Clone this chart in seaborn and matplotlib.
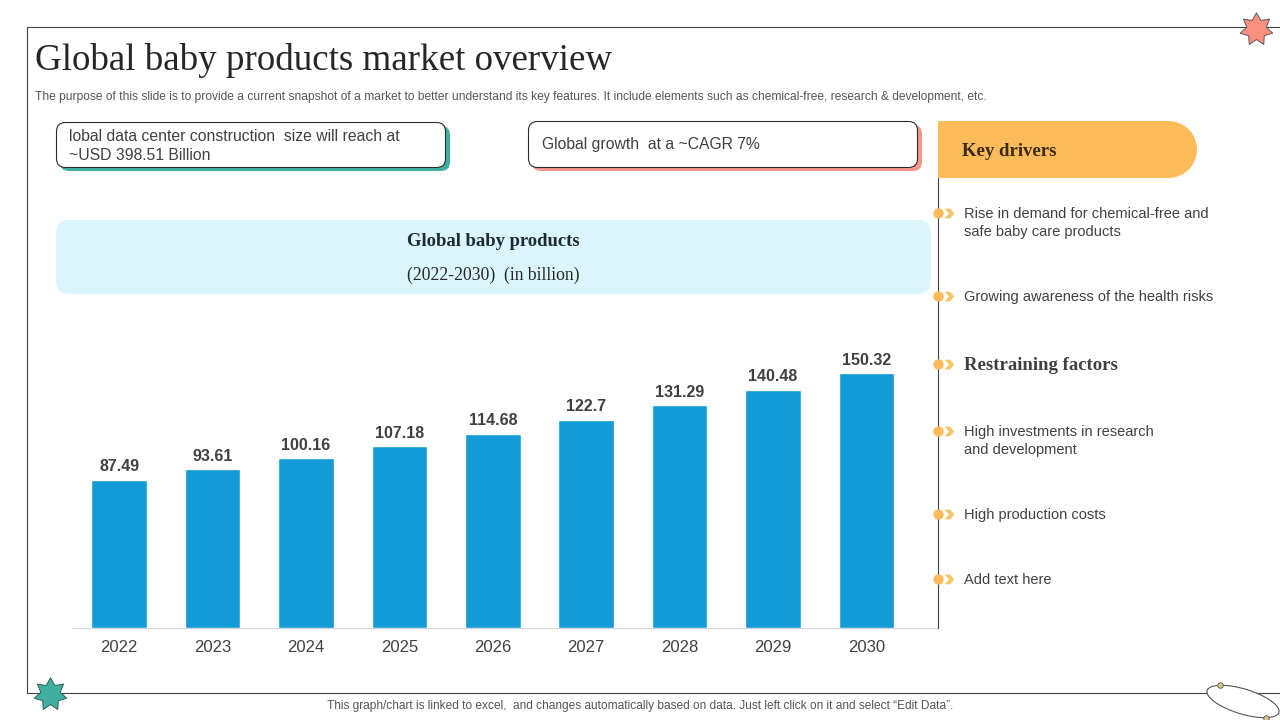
import matplotlib
matplotlib.use('Agg')
import matplotlib.pyplot as plt
import pandas as pd
import seaborn as sns
from matplotlib.patches import Rectangle, FancyBboxPatch, Ellipse
from matplotlib.path import Path

years = ['2022', '2023', '2024', '2025', '2026', '2027', '2028', '2029', '2030']
market_size = [87.49, 93.61, 100.16, 107.18, 114.68, 122.7, 131.29, 140.48, 150.32]

title = 'Global baby products market overview'
subtitle = ('The purpose of this slide is to provide a current snapshot of a market to better understand '
            'its key features. It include elements such as chemical-free, research & development, etc.')
footer = 'This graph/chart is linked to excel,  and changes automatically based on data. Just left click on it and select \u201cEdit Data\u201d.'
callout_1 = 'lobal data center construction  size will reach at\n~USD 398.51 Billion'
callout_2 = 'Global growth  at a ~CAGR 7%'
driver_items = [
    (213, 'Rise in demand for chemical-free and\nsafe baby care products', False),
    (296, 'Growing awareness of the health risks', False),
    (364, 'Restraining factors', True),
    (431, 'High investments in research\nand development', False),
    (514, 'High production costs', False),
    (579, 'Add text here', False),
]

DARK = '#404040'
BLUE = '#139BD5'
ORANGE = '#FDBB5A'
TEAL = '#3FAFA0'
SALMON = '#F6958A'
SANS = 'Liberation Sans'
SERIF = 'Liberation Serif'

sns.set_theme(style='white')
plt.rcParams['font.family'] = [SANS, 'DejaVu Sans']

W, H = 1280, 720
fig = plt.figure(figsize=(12.8, 7.2), dpi=100, facecolor='white')

# overlay in pixel coordinates for the slide furniture
bg = fig.add_axes([0, 0, 1, 1])
bg.set_xlim(0, W)
bg.set_ylim(H, 0)
bg.axis('off')

bg.plot([27, 27, 1280], [693, 27, 27], color=DARK, lw=0.8, zorder=1)
bg.plot([27, 1280], [693, 693], color=DARK, lw=0.8, zorder=1)


def rounded(x0, y0, x1, y1, r, **kw):
    p = FancyBboxPatch((x0 + r, y0 + r), x1 - x0 - 2 * r, y1 - y0 - 2 * r,
                       boxstyle=f'round,pad={r},rounding_size={r}', **kw)
    bg.add_patch(p)
    return p


# callouts
rounded(60, 126, 450, 171, 9, fc=TEAL, ec='none', zorder=2)
rounded(56.5, 122.5, 445.5, 167.5, 9, fc='white', ec='#2b2b2b', lw=0.8, zorder=3)
rounded(532, 125, 922, 171, 9, fc=SALMON, ec='none', zorder=2)
rounded(528.5, 121.5, 917.5, 167.5, 9, fc='white', ec='#2b2b2b', lw=0.8, zorder=3)
bg.text(69, 146, callout_1, fontsize=11.3, color=DARK, va='center', linespacing=1.34, zorder=4)
bg.text(542, 144.5, callout_2, fontsize=11.3, color=DARK, va='center', zorder=4)

# chart heading band
rounded(56, 220, 931, 294, 13, fc='#DAF6FC', ec='none', zorder=1)
bg.text(493, 241, 'Global baby products', family=SERIF, fontsize=13.4, fontweight='bold',
        color='#1f2a30', ha='center', va='center', zorder=2)
bg.text(493, 275, '(2022-2030)  (in billion)', family=SERIF, fontsize=12.7,
        color='#262626', ha='center', va='center', zorder=2)

# key drivers column
bg.add_patch(Rectangle((938, 121), 231, 57, fc=ORANGE, ec='none', zorder=2))
bg.add_patch(Ellipse((1168.5, 149.5), 57, 57, fc=ORANGE, ec='none', zorder=2))
bg.text(962, 152, 'Key drivers', family=SERIF, fontsize=13.5, fontweight='bold',
        color='#3a2a10', va='center', zorder=4)
bg.plot([938, 938], [178, 628], color=DARK, lw=0.8, zorder=3)
bg.plot([73, 938], [628, 628], color='#d4d4d4', lw=0.8, zorder=1)

chevron = Path([(-1, -1), (0.1, -1), (1, 0), (0.1, 1), (-1, 1), (-0.1, 0), (-1, -1)])
for y, label, bold in driver_items:
    bg.plot(938, y, 'o', ms=7.5, mfc=ORANGE, mec='none', zorder=4)
    bg.plot(949, y, marker=chevron, ms=7, mfc='#F4C566', mec='none', zorder=4)
    if bold:
        bg.text(964, y + 2, label, family=SERIF, fontsize=13.5, fontweight='bold',
                color=DARK, va='center', zorder=4)
    else:
        # two line items hang below their bullet
        offset = 9 if '\n' in label else 0
        bg.text(964, y + offset + 1, label, fontsize=10.5, color=DARK, va='center',
                linespacing=1.35, zorder=4)

# title block
bg.text(35, 60, title, family=SERIF, fontsize=26.65, color='#262626', va='center')
bg.text(35, 97, subtitle, fontsize=8.61, color='#555555', va='center')
bg.text(640, 706.5, footer, fontsize=8.55, color='#555555', ha='center', va='center')

# decorations
star = Path.unit_regular_star(7, innerCircle=0.6)
bg.plot(1256, 29, marker=star, ms=24, mfc='#FB8F80', mec='#5a5a5a', mew=0.7, zorder=5, clip_on=False)
bg.plot(50, 694, marker=star, ms=24, mfc=TEAL, mec='#2f5f5a', mew=0.7, zorder=5, clip_on=False)
bg.add_patch(Ellipse((1243, 701.5), 75, 25, angle=17, fc='white', ec='#555555', lw=0.8, zorder=5))
bg.plot([1220, 1266], [685, 718], 'o', ms=4, mfc='#D9C48A', mec='#555555', mew=0.6, zorder=6, ls='none')

# bar chart, same pixel scale as the slide
left, right, top, base = 72.5, 913, 340, 628
ax = fig.add_axes([left / W, 1 - base / H, (right - left) / W, (base - top) / H])
ax.patch.set_alpha(0)
df = pd.DataFrame({'year': years, 'size': market_size})
sns.barplot(data=df, x='year', y='size', color=BLUE, saturation=1, width=0.595, ax=ax)
ax.set_ylim(0, (base - top) / 1.695)
ax.set_xlim(-0.5, len(years) - 0.5)
ax.bar_label(ax.containers[0], fmt='%g', padding=4, fontsize=11.5, fontweight='bold', color=DARK)
ax.set_xlabel('')
ax.set_ylabel('')
ax.set_yticks([])
ax.tick_params(axis='x', length=0, pad=9, labelsize=12, labelcolor=DARK)
sns.despine(ax=ax, left=True, bottom=True)

fig.savefig('out.png', dpi=100)
